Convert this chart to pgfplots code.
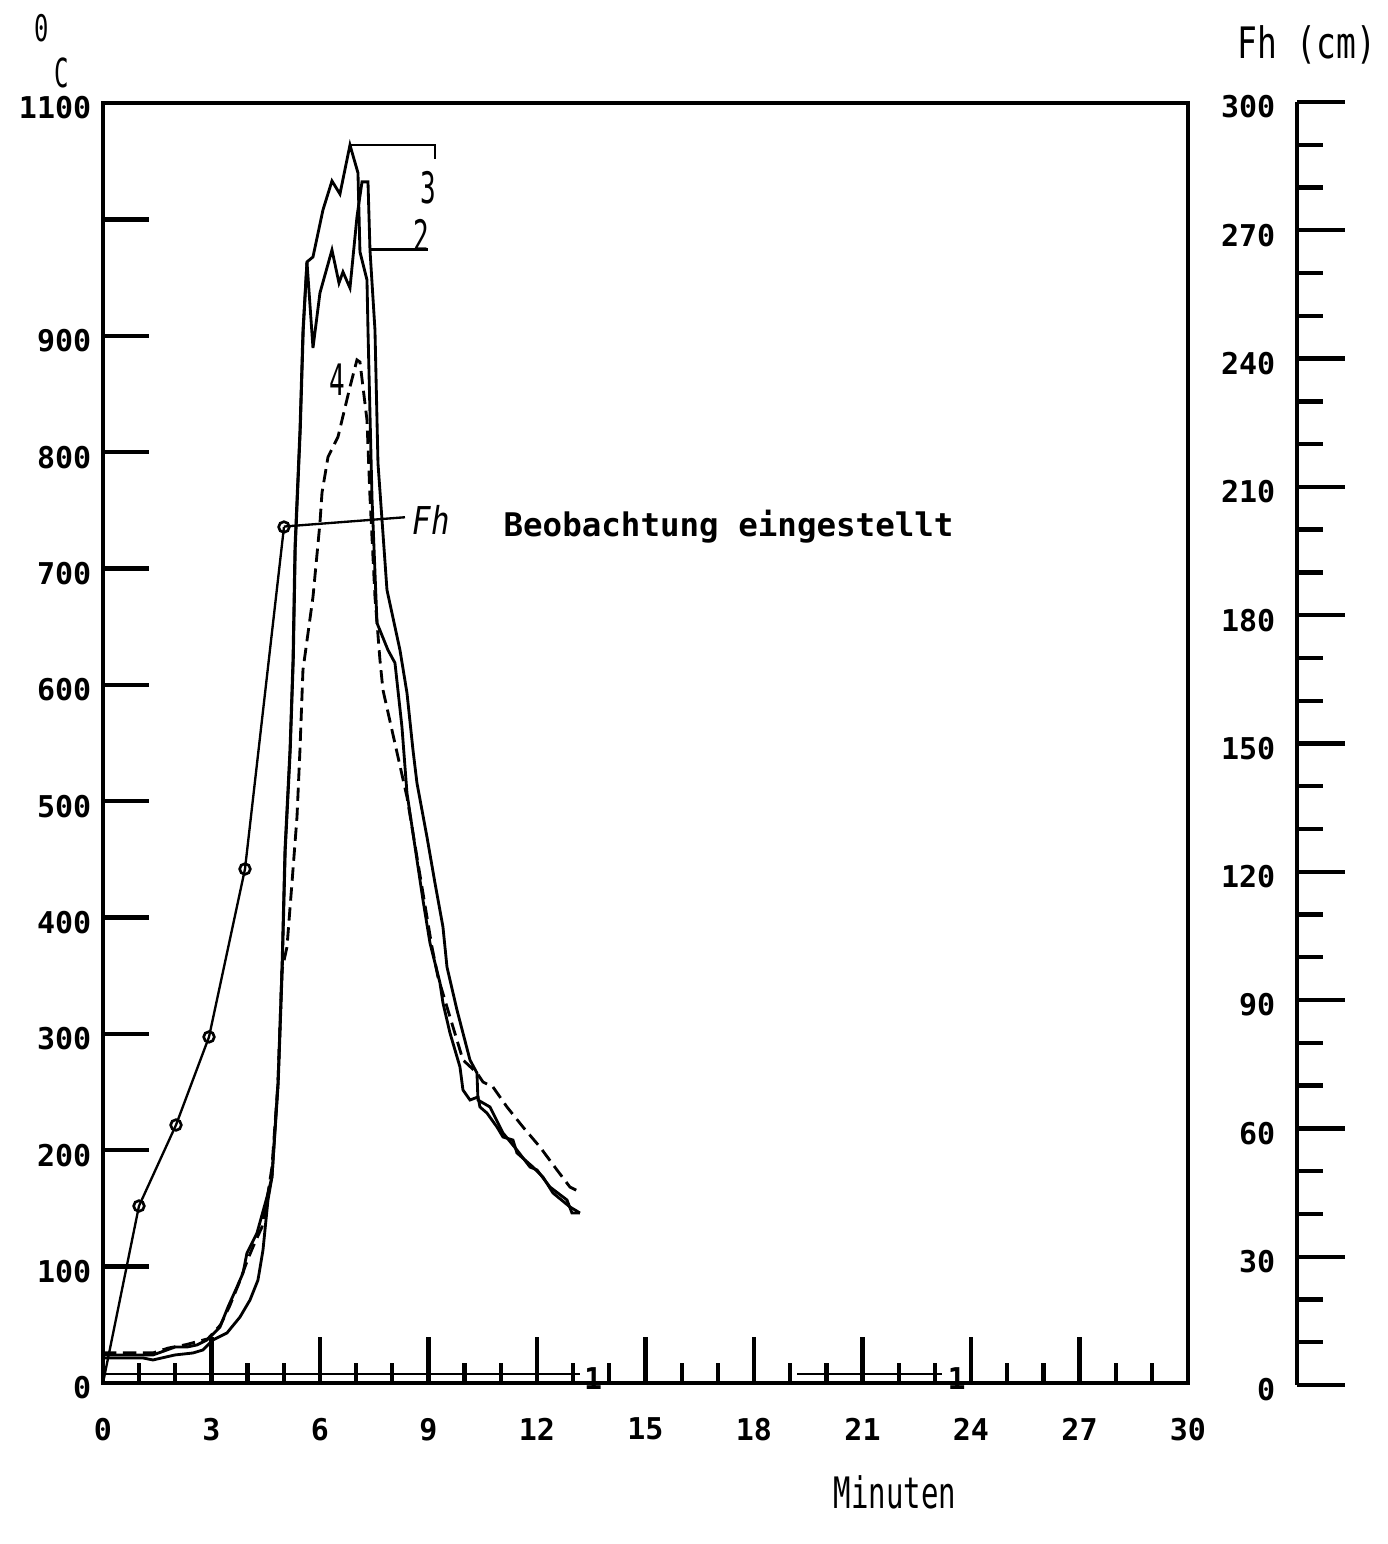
\documentclass[border=0pt]{standalone}
\usepackage{pgfplots}
\pgfplotsset{compat=1.18}
\usepackage{pgfplotstable}
\usepackage{fontspec}
\setmainfont{DejaVu Sans}
\newfontfamily\mono{DejaVu Sans Mono}

\pgfplotstableread{
t T
0 24.1
1.106 24.1
1.382 24.1
1.769 28.4
1.991 30.9
2.322 30.9
2.599 32.7
2.875 37.0
2.958 39.5
3.235 48.1
3.456 65.3
3.705 82.5
3.871 94.5
3.981 111.7
4.258 128.9
4.534 159.8
4.672 177.0
4.838 257.8
4.948 354.9
5.031 458.0
5.170 544.0
5.253 621.3
5.308 718.5
5.446 819.0
5.529 904.9
5.640 963.4
5.806 967.7
6.082 1008.1
6.331 1033.0
6.552 1021.8
6.829 1063.9
7.050 1039.9
7.105 972.0
7.299 947.9
7.327 904.9
7.437 761.4
7.576 653.1
7.879 629.9
8.073 618.8
8.266 563.8
8.405 507.0
8.847 415.1
9.041 378.1
9.317 343.8
9.400 326.6
9.594 300.8
9.870 271.6
9.953 251.8
10.147 243.2
10.368 245.8
10.423 237.2
10.616 232.0
10.893 220.0
11.059 211.4
11.335 208.8
11.446 197.7
11.888 185.6
12.165 177.0
12.441 163.3
12.911 151.3
13.188 146.1
}\curvethree

\pgfplotstableread{
t T
0 21.5
1.106 21.5
1.382 19.8
1.991 24.1
2.488 25.8
2.765 28.4
3.041 37.0
3.428 43.0
3.788 56.7
4.064 71.3
4.285 88.5
4.424 114.3
4.562 157.3
4.672 177.0
4.845 257.8
4.955 354.9
5.040 458.0
5.178 544.0
5.262 621.3
5.318 718.5
5.455 819.0
5.538 904.9
5.640 963.4
5.806 889.5
5.999 936.8
6.331 973.7
6.525 945.3
6.635 954.8
6.829 941.0
7.022 1002.1
7.161 1032.2
7.327 1032.2
7.382 973.7
7.520 904.9
7.603 790.6
7.852 681.5
8.211 629.9
8.405 593.0
8.571 544.0
8.681 515.6
8.958 469.2
9.179 429.7
9.400 391.9
9.511 357.5
9.787 320.6
10.147 277.6
10.340 266.4
10.368 243.2
10.700 237.2
11.059 214.9
11.446 200.2
11.806 185.6
12.000 183.1
12.359 168.4
12.829 157.3
12.967 146.1
13.188 146.1
}\curvetwo

\pgfplotstableread{
t T
0 26
1.1 26
1.4 26
1.8 30
2.3 33
2.9 38
3.25 50
3.5 66
3.75 85
4.0 106
4.147 116.9
4.396 134.1
4.534 157.3
4.672 185.6
4.838 257.8
4.948 354.9
5.087 374.7
5.225 429.7
5.364 486.4
5.446 544.0
5.529 612.8
5.806 675.5
5.999 739.1
6.055 764.9
6.221 795.8
6.497 813.0
6.829 856.0
7.022 879.2
7.105 877.4
7.299 827.6
7.382 761.4
7.520 675.5
7.658 621.3
7.741 595.6
8.405 503.6
9.096 374.7
9.262 348.9
9.511 323.1
9.953 277.6
10.340 266.4
10.506 258.7
10.782 254.4
11.170 237.2
11.612 220.0
12.082 202.8
12.552 183.1
12.911 168.4
13.188 164.1
}\curvefour

\pgfplotstableread{
t T
0 0
0.995 152.1
2.018 221.7
2.931 297.4
3.926 441.7
5.004 735.6
}\fh

\begin{document}
\begin{tikzpicture}
\path[use as bounding box] (0,0) rectangle (416.1pt,463.2pt);
\begin{axis}[
  at={(30.9pt,48.3pt)}, anchor=south west,
  scale only axis, width=325.5pt, height=384pt,
  xmin=0, xmax=30, ymin=0, ymax=1100,
  clip=false,
  axis line style={line width=1.1pt},
  xtick={0,3,...,30},
  minor xtick={1,2,4,5,7,8,10,11,13,14,16,17,19,20,22,23,25,26,28,29},
  ytick={0,100,...,1100},
  yticklabels={0,100,200,300,400,500,600,700,800,900,{},1100},
  xtick pos=bottom, ytick pos=left,
  tick align=inside,
  major tick length=13.8pt, minor tick length=6pt,
  every tick/.style={black, line width=1.3pt},
  tick label style={font=\mono\bfseries\fontsize{9}{9}\selectfont},
  /pgf/number format/assume math mode=true,
  xticklabel style={yshift=-7pt},
  yticklabel style={yshift=-1.5pt},
]
\addplot[black, line width=0.85pt] table {\curvethree};
\addplot[black, line width=0.85pt] table {\curvetwo};
\addplot[black, line width=0.85pt, dash pattern=on 4pt off 2pt] table {\curvefour};
\addplot[black, line width=0.7pt] coordinates {(0,8) (13.2,8)};
\addplot[black, line width=0.7pt] coordinates {(19.2,8) (23.2,8)};
\addplot[black, line width=0.7pt, mark=o, mark indices={2,3,4,5,6}, mark size=1.6pt, mark options={fill=white, line width=0.8pt}] table {\fh};
% leader lines
\addplot[black, line width=0.8pt] coordinates {(6.83,1064) (9.18,1064) (9.18,1052)};
\addplot[black, line width=0.8pt] coordinates {(7.38,974) (8.99,974)};
\addplot[black, line width=0.7pt] coordinates {(5.0,736) (8.35,744)};
% labels
\node[font=\mono\fontsize{13}{13}\selectfont, xscale=0.6] at (axis cs:8.99,1027) {3};
\node[font=\mono\fontsize{13}{13}\selectfont, xscale=0.6] at (axis cs:8.79,986) {2};
\node[font=\mono\fontsize{13}{13}\selectfont, xscale=0.6] at (axis cs:6.47,862) {4};
\node[font=\mono\itshape\fontsize{11.5}{11.5}\selectfont, xscale=0.8, anchor=west] at (axis cs:8.3,742) {Fh};
\node[font=\mono\bfseries\fontsize{9.75}{9.75}\selectfont, anchor=west] at (axis cs:10.75,736) {Beobachtung eingestellt};
\node[font=\mono\bfseries\fontsize{9}{9}\selectfont] at (axis cs:13.55,4) {1};
\node[font=\mono\bfseries\fontsize{9}{9}\selectfont] at (axis cs:23.6,4) {1};
\node[font=\mono\fontsize{13}{13}\selectfont, xscale=0.67] at (axis cs:21.9,-94) {Minuten};
\node[font=\mono\fontsize{11}{11}\selectfont, xscale=0.65] at (axis cs:-1.69,1164) {0};
\node[font=\mono\fontsize{12}{12}\selectfont, xscale=0.6] at (axis cs:-1.13,1126) {C};
\node[font=\mono\fontsize{13}{13}\selectfont, xscale=0.76, anchor=west, inner sep=0pt] at (axis cs:31.35,1150) {Fh (cm)};
\end{axis}
\begin{axis}[
  at={(389.1pt,47.7pt)}, anchor=south west,
  scale only axis, width=20pt, height=384.9pt,
  xmin=0, xmax=1, ymin=0, ymax=300,
  axis x line=none, axis y line=left,
  y axis line style={-, line width=1.3pt},
  ytick={0,30,...,300},
  minor ytick={0,10,...,300},
  tick align=inside,
  major tick length=14.4pt, minor tick length=7.8pt,
  every tick/.style={black, line width=1.3pt},
  tick label style={font=\mono\bfseries\fontsize{9}{9}\selectfont},
  /pgf/number format/assume math mode=true,
  yticklabel style={xshift=-3pt, yshift=-1.5pt},
]
\addplot[draw=none] coordinates {(0,0) (1,300)};
\end{axis}
\end{tikzpicture}
\end{document}
